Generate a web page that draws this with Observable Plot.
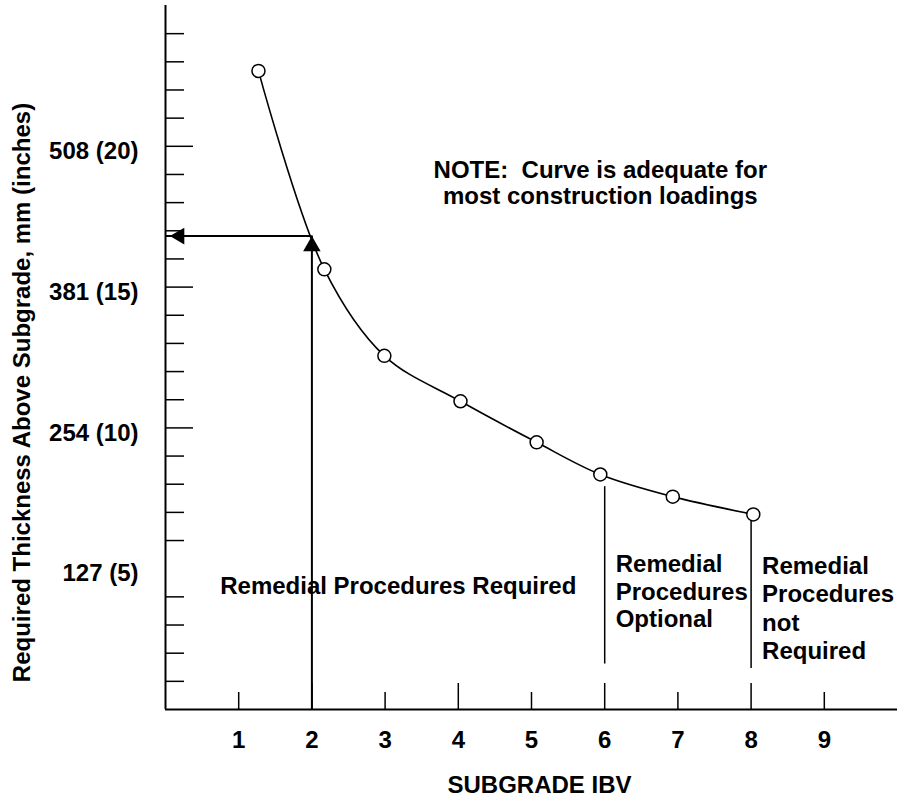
<!DOCTYPE html>
<html><head><meta charset="utf-8">
<script src="https://cdn.jsdelivr.net/npm/d3@7"></script>
<script src="https://cdn.jsdelivr.net/npm/@observablehq/plot@0.6"></script>
<style>body{margin:0;background:#fff}</style>
</head><body><div id="chart"></div>
<script>
// Curve data (subgrade IBV vs required thickness, mm)
const ibv = [1.27, 2.17, 2.99, 4.03, 5.07, 5.94, 6.93, 8.03];
const thicknessMm = [576, 397, 319, 278, 241, 212, 192, 176];

// Axis ticks
const xTickValues = [1, 2, 3, 4, 5, 6, 7, 8, 9];
const xShortTicks = [1, 3, 5, 7, 9];
const xLongTicks = [2, 4, 6, 8];
const yLabelMm = [127, 254, 381, 508];
const yLabelInches = [5, 10, 15, 20];
const yLongTickMm = [254, 381, 508];
const yMinorTickInches = [1, 2, 3, 4, 6, 7, 8, 9, 11, 12, 13, 14, 16, 17, 18, 19, 21, 22, 23, 24];

// Worked example (arrow) and zone dividers
const exampleIbv = [2];
const exampleMm = [427];
const dividerX = [6, 8];
const dividerBottomMm = [41, 37];
const dividerTopMm = [201, 170];

// Annotation texts and their anchor positions (data units)
const zoneTexts = ["Remedial Procedures Required", "Remedial\nProcedures\nOptional", "Remedial\nProcedures\nnot\nRequired"];
const zoneX = [3.18, 6, 8];
const zoneMm = [111, 107, 92];
const noteText = ["NOTE:  Curve is adequate for\nmost construction loadings"];
const noteX = [5.94];
const noteMm = [475];

const points = ibv.map((x, i) => ({x, y: thicknessMm[i]}));
const yMinorMm = yMinorTickInches.map(d => d * 25.4);
const dividers = dividerX.map((x, i) => ({x, y1: dividerBottomMm[i], y2: dividerTopMm[i]}));
const zones = zoneTexts.map((t, i) => ({t, x: zoneX[i], y: zoneMm[i]}));

const W = 901, H = 803, mT = 5, mR = 4, mB = 94, mL = 165;
const plotW = W - mL - mR, plotH = H - mT - mB;

const chart = Plot.plot({
  width: W, height: H,
  marginTop: mT, marginRight: mR, marginBottom: mB, marginLeft: mL,
  x: {domain: [0, 10], axis: null},
  y: {domain: [0, 635], axis: null},
  style: {fontFamily: "'Liberation Sans', Arial, sans-serif", fontSize: "24px", fontWeight: "bold", color: "#000", background: "#fff", overflow: "visible"},
  marks: [
    Plot.ruleX([0], {strokeWidth: 2}),
    Plot.ruleY([0], {strokeWidth: 2}),
    Plot.tickY(yMinorMm, {y: d => d, insetRight: plotW - 19, strokeWidth: 1.5}),
    Plot.tickY(yLongTickMm, {y: d => d, insetRight: plotW - 28, strokeWidth: 1.5}),
    Plot.tickX(xShortTicks, {x: d => d, insetTop: plotH - 17, strokeWidth: 1.5}),
    Plot.tickX(xLongTicks, {x: d => d, insetTop: plotH - 26, strokeWidth: 1.5}),
    Plot.text(yLabelMm, {y: d => d, frameAnchor: "left", dx: -27, dy: 5, textAnchor: "end", text: (d, i) => `${d} (${yLabelInches[i]})`, fontSize: 24}),
    Plot.text(xTickValues, {x: d => d, frameAnchor: "bottom", dy: 38, text: d => String(d), fontSize: 24}),
    Plot.text(["SUBGRADE IBV"], {x: 5, frameAnchor: "bottom", dx: 8, dy: 83, fontSize: 24}),
    Plot.text(["Required Thickness Above Subgrade, mm (inches)"], {frameAnchor: "left", textAnchor: "middle", dx: -143, dy: 35, rotate: -90, fontSize: 24}),
    Plot.ruleX(dividers, {x: "x", y1: "y1", y2: "y2", strokeWidth: 1.5}),
    Plot.ruleX(exampleIbv, {x: d => d, y1: 0, y2: exampleMm[0], strokeWidth: 2}),
    Plot.ruleY(exampleMm, {y: d => d, x1: 0, x2: exampleIbv[0], strokeWidth: 2}),
    Plot.dot(exampleIbv, {x: d => d, y: exampleMm[0], symbol: "triangle", r: 6.5, fill: "black", dy: 10}),
    Plot.dot(exampleMm, {x: 0, y: d => d, symbol: "triangle", r: 6.2, fill: "black", rotate: -90, dx: 14}),
    Plot.line(points, {x: "x", y: "y", curve: "catmull-rom", strokeWidth: 1.6}),
    Plot.dot(points, {x: "x", y: "y", r: 6.5, fill: "white", stroke: "black", strokeWidth: 1.5}),
    Plot.text(zones.slice(0, 1), {x: "x", y: "y", text: "t", fontSize: 24}),
    Plot.text(zones.slice(1, 2), {x: "x", y: "y", text: "t", textAnchor: "start", dx: 11, lineHeight: 1.13, fontSize: 24}),
    Plot.text(zones.slice(2), {x: "x", y: "y", text: "t", textAnchor: "start", dx: 11, lineHeight: 1.17, fontSize: 24}),
    Plot.text(noteText, {x: noteX[0], y: noteMm[0], text: d => d, lineHeight: 1.05, fontSize: 24})
  ]
});
document.getElementById("chart").appendChild(chart);
</script>
</body></html>
